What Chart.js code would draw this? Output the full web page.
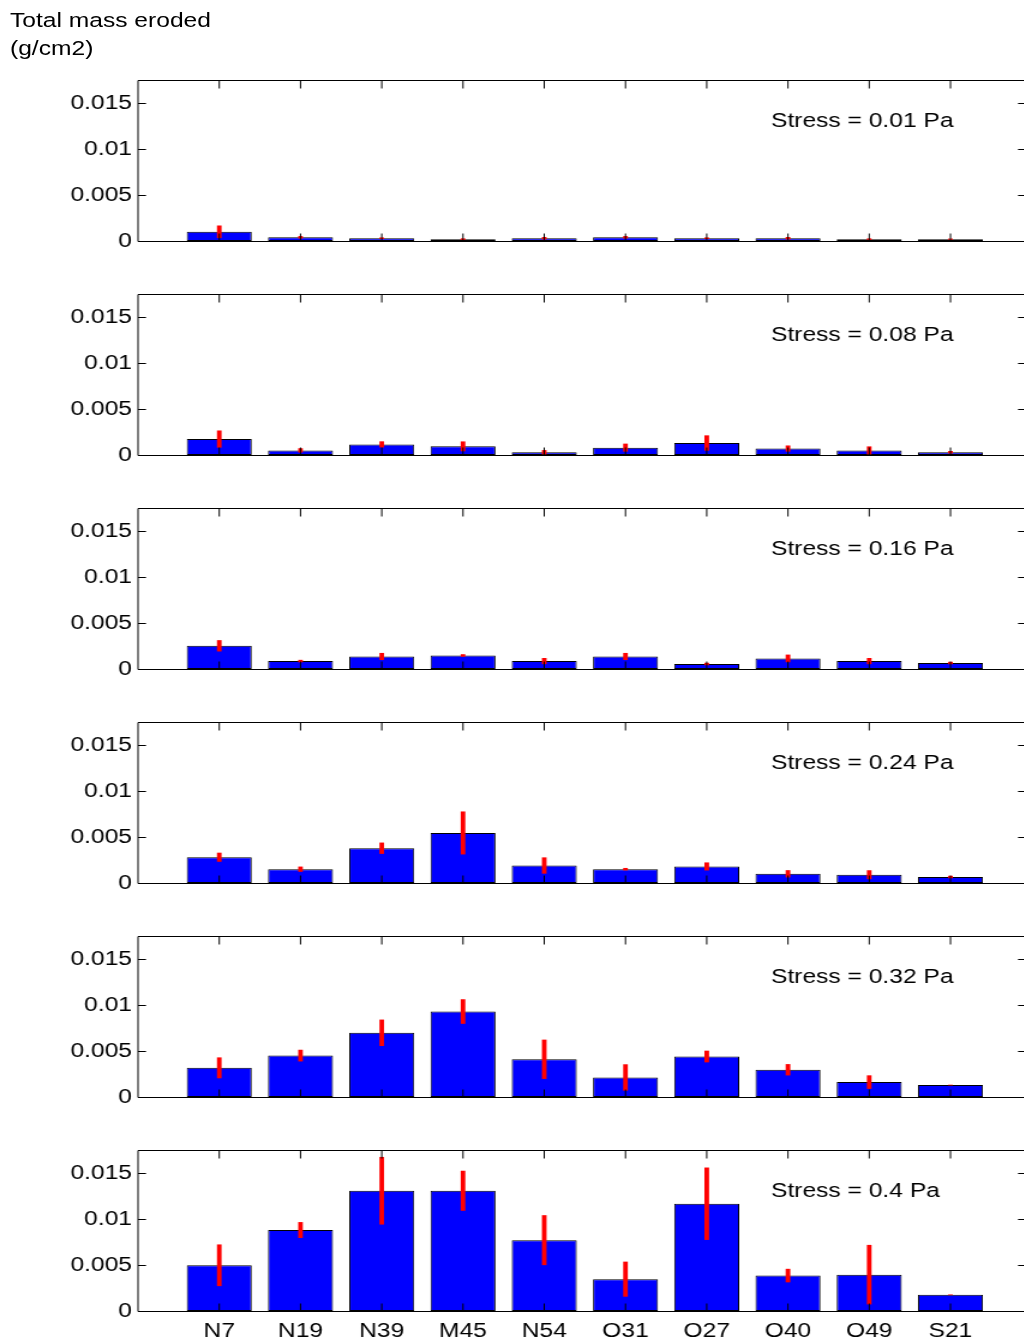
<!DOCTYPE html>
<html>
<head>
<meta charset="utf-8">
<script src="https://cdn.jsdelivr.net/npm/chart.js@4"></script>
<style>
html,body{margin:0;padding:0;background:#fff;overflow:hidden;width:1024px;height:1344px}
#wrap{position:absolute;left:0;top:0;width:860px;height:1344px;transform:scaleX(1.2);transform-origin:0 0}
#title{position:absolute;left:8.3px;top:6px;font-family:"Liberation Sans",Arial,sans-serif;font-size:20.5px;line-height:28px;color:#000;white-space:nowrap}
canvas{position:absolute;left:0}
</style>
</head>
<body>
<div id="wrap"><div id="title">Total mass eroded<br>(g/cm2)</div></div>
<script>
// ---- data ----
const categories = ['N7','N19','N39','M45','N54','O31','O27','O40','O49','S21'];
const stressLabels = ['0.01','0.08','0.16','0.24','0.32','0.4'];
const yTickValues = [0, 0.005, 0.01, 0.015];
const yTickLabels = ['0','0.005','0.01','0.015'];

const mean001 = [0.0010, 0.0004, 0.0003, 0.0002, 0.0003, 0.0004, 0.0003, 0.0003, 0.0002, 0.0002];
const err001  = [0.00065, 0.0001, 0.00005, 0.00005, 0.0001, 0.0001, 0.00005, 0.0001, 0.00005, 0.00003];
const mean008 = [0.00173, 0.0005, 0.00115, 0.00094, 0.0003, 0.0008, 0.0013, 0.0007, 0.0005, 0.0003];
const err008  = [0.0009, 0.0002, 0.0003, 0.0005, 0.0002, 0.0004, 0.0008, 0.0003, 0.0004, 0.0001];
const mean016 = [0.00252, 0.00086, 0.00136, 0.00147, 0.00086, 0.00136, 0.00054, 0.00115, 0.00086, 0.00065];
const err016  = [0.00058, 0.0001, 0.00035, 0.0001, 0.0003, 0.00035, 0.0001, 0.00038, 0.0003, 0.0001];
const mean024 = [0.0028, 0.0015, 0.00378, 0.00544, 0.0019, 0.0015, 0.0018, 0.0010, 0.0009, 0.00065];
const err024  = [0.00046, 0.00025, 0.00058, 0.0023, 0.00085, 0.0001, 0.0004, 0.00036, 0.00045, 0.0001];
const mean032 = [0.00317, 0.0045, 0.00698, 0.00929, 0.0041, 0.00212, 0.0044, 0.00296, 0.00162, 0.0013];
const err032  = [0.0011, 0.0006, 0.0014, 0.0013, 0.0021, 0.0014, 0.0006, 0.00058, 0.0007, 0];
const mean040 = [0.00497, 0.0088, 0.01307, 0.01307, 0.0077, 0.00346, 0.01166, 0.00385, 0.00395, 0.00176];
const err040  = [0.00223, 0.00083, 0.00364, 0.00214, 0.00268, 0.00187, 0.0039, 0.0007, 0.0032, 0];

const panelMeans = [mean001, mean008, mean016, mean024, mean032, mean040];
const panelErrs  = [err001, err008, err016, err024, err032, err040];

// ---- layout ----
const SX = 1.2;
const FONT = '"Liberation Sans", Arial, sans-serif';
const FONT_SIZE = 20.5;
const AXIS_LEFT = 138 / SX;
const AXIS_RIGHT = 1026 / SX;
const CANVAS_W = 860;
const TOP0 = 80, STEP = 214, PLOT_H = 161, PAD_TOP = 10, XAXIS_H = 40;
const X_MAX = 10.93, Y_MAX = 0.0175;
const TICK_X = 8 / SX, TICK_Y = 8;
const STRESS_X = 771 / SX;

const wrap = document.getElementById('wrap');

function framePlugin(i) {
  return {
    id: 'frame' + i,
    afterDraw(chart) {
      const {ctx, chartArea: a, scales: {x, y}} = chart;
      ctx.save();
      ctx.strokeStyle = '#000';
      ctx.lineWidth = 1;
      const t = Math.round(a.top) + 0.5, b = Math.round(a.bottom) + 0.5;
      ctx.beginPath();
      ctx.moveTo(a.left, t); ctx.lineTo(a.right, t);
      ctx.lineTo(a.right, b); ctx.lineTo(a.left, b); ctx.closePath();
      for (const v of yTickValues) {
        const py = Math.round(y.getPixelForValue(v)) + 0.5;
        ctx.moveTo(a.left, py); ctx.lineTo(a.left + TICK_X, py);
        ctx.moveTo(a.right, py); ctx.lineTo(a.right - TICK_X, py);
      }
      categories.forEach((c, k) => {
        const px = x.getPixelForValue(k + 1);
        ctx.moveTo(px, t); ctx.lineTo(px, t + TICK_Y);
        ctx.moveTo(px, b); ctx.lineTo(px, b - TICK_Y);
      });
      ctx.stroke();
      ctx.fillStyle = '#000';
      ctx.font = FONT_SIZE + 'px ' + FONT;
      ctx.textAlign = 'left';
      ctx.textBaseline = 'middle';
      ctx.fillText('Stress = ' + stressLabels[i] + ' Pa', STRESS_X, a.top + 41);
      ctx.restore();
    }
  };
}

function makePanel(i) {
  const means = panelMeans[i], errs = panelErrs[i];
  const isLast = i === panelMeans.length - 1;
  const canvas = document.createElement('canvas');
  const H = PAD_TOP + PLOT_H + XAXIS_H;
  canvas.width = CANVAS_W; canvas.height = H;
  canvas.style.top = (TOP0 + STEP * i - PAD_TOP) + 'px';
  canvas.style.width = CANVAS_W + 'px';
  canvas.style.height = H + 'px';
  wrap.appendChild(canvas);
  new Chart(canvas, {
    type: 'bar',
    data: {
      datasets: [
        {
          label: 'error',
          data: means.map((v, k) => ({x: k + 1, y: [v - errs[k], v + errs[k]]})),
          backgroundColor: '#ff0000',
          borderWidth: 0,
          barThickness: 3.2,
          grouped: false,
          order: 0
        },
        {
          label: 'mass',
          data: means.map((v, k) => ({x: k + 1, y: v})),
          backgroundColor: '#0000ff',
          borderColor: '#000000',
          borderWidth: 1,
          borderSkipped: false,
          categoryPercentage: 1,
          barPercentage: 0.8,
          grouped: false,
          order: 1
        }
      ]
    },
    options: {
      responsive: false,
      animation: false,
      devicePixelRatio: 1,
      layout: {autoPadding: false, padding: {top: PAD_TOP, right: CANVAS_W - AXIS_RIGHT, left: 0, bottom: 0}},
      plugins: {legend: {display: false}, tooltip: {enabled: false}, title: {display: false}},
      scales: {
        x: {
          type: 'linear', min: 0, max: X_MAX, offset: false,
          grid: {display: false, drawTicks: false}, border: {display: false},
          afterBuildTicks: s => { s.ticks = categories.map((c, k) => ({value: k + 1})); },
          afterFit: s => { s.height = XAXIS_H; s.paddingLeft = 0; s.paddingRight = 0; },
          ticks: {
            display: isLast, autoSkip: false, maxRotation: 0, minRotation: 0, padding: 8,
            color: '#000', font: {family: FONT, size: FONT_SIZE},
            callback: v => categories[Math.round(v) - 1]
          }
        },
        y: {
          min: 0, max: Y_MAX,
          grid: {display: false, drawTicks: false}, border: {display: false},
          afterBuildTicks: s => { s.ticks = yTickValues.map(v => ({value: v})); },
          afterFit: s => { s.width = AXIS_LEFT; s.paddingTop = 0; s.paddingBottom = 0; },
          ticks: {
            padding: 5, color: '#000', font: {family: FONT, size: FONT_SIZE},
            callback: (v, idx) => yTickLabels[idx]
          }
        }
      }
    },
    plugins: [framePlugin(i)]
  });
}

for (let i = 0; i < panelMeans.length; i++) makePanel(i);
</script>
</body>
</html>
